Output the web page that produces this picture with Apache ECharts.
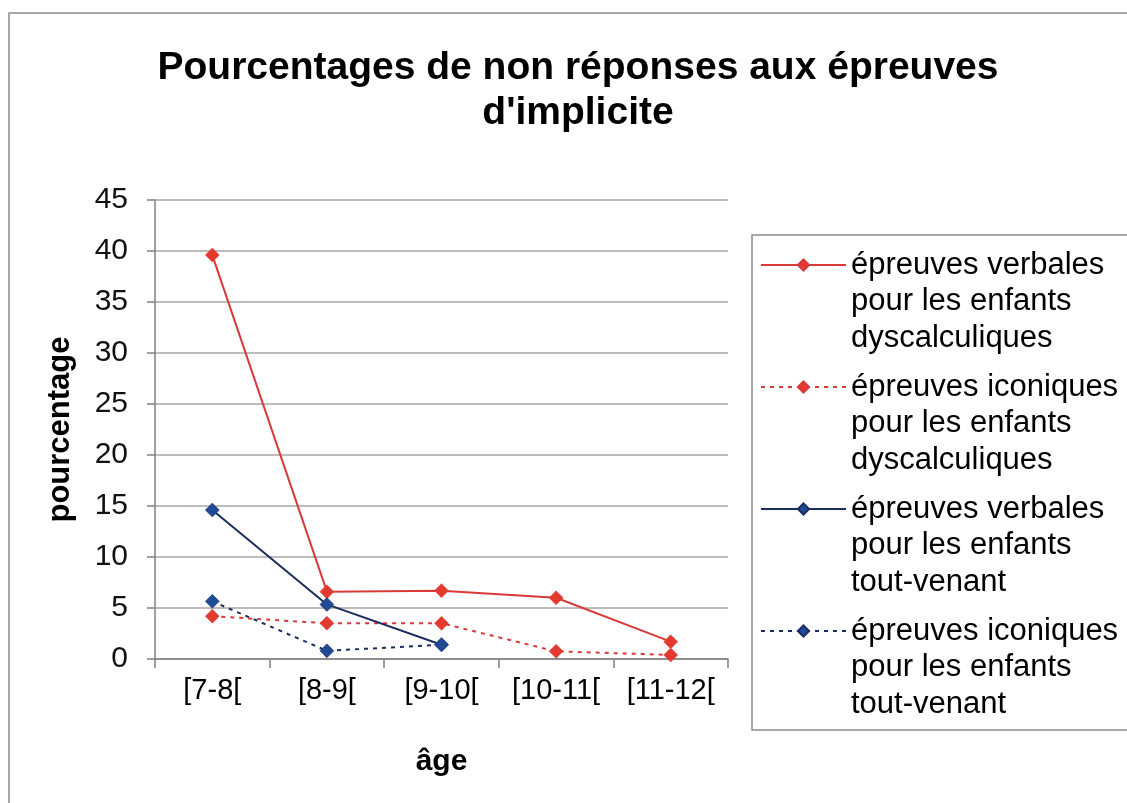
<!DOCTYPE html>
<html>
<head>
<meta charset="utf-8">
<script src="https://cdn.jsdelivr.net/npm/echarts@6/dist/echarts.min.js"></script>
<style>
  html, body { margin: 0; padding: 0; background: #fff; }
  #chart { width: 1127px; height: 803px; }
</style>
</head>
<body>
<div id="chart"></div>
<script>
// catégories d'âge
const ages = ['[7-8[', '[8-9[', '[9-10[', '[10-11[', '[11-12[']
const yTicks = [0, 5, 10, 15, 20, 25, 30, 35, 40, 45]

// pourcentages
const verbalDys = [39.6, 6.6, 6.7, 6.0, 1.7]
const iconDys = [4.2, 3.5, 3.5, 0.75, 0.4]
const verbalTv = [14.6, 5.35, 1.4, null, null]
const iconTv = [5.65, 0.8, 1.4, null, null]

const names = [
  'épreuves verbales\npour les enfants\ndyscalculiques',
  'épreuves iconiques\npour les enfants\ndyscalculiques',
  'épreuves verbales\npour les enfants\ntout-venant',
  'épreuves iconiques\npour les enfants\ntout-venant'
]

const colors = {
  red: '#e23a2e',
  redLine: '#d83a3a',
  blue: '#1f4a96',
  blueLine: '#1c2c5e',
  grid: '#a6a6a6',
  axis: '#808080'
}

const font = '"Liberation Sans", Arial, sans-serif'
const lineH = 36.5

const chart = echarts.init(document.getElementById('chart'))

function serie(name, data, color, lineColor, dashed) {
  return {
    name: name,
    type: 'line',
    data: data,
    symbol: 'diamond',
    symbolSize: 14,
    connectNulls: false,
    itemStyle: { color: color, borderColor: lineColor, borderWidth: 0.5 },
    lineStyle: { color: lineColor, width: 2, type: dashed ? [4, 5] : 'solid' },
    emphasis: { disabled: true },
    z: 3
  }
}

chart.setOption({
  animation: false,
  backgroundColor: '#fff',
  title: {
    text: 'Pourcentages de non réponses aux épreuves\nd\'implicite',
    left: 573,
    textAlign: 'center',
    top: 41,
    textStyle: { fontFamily: font, fontSize: 39, fontWeight: 'bold', color: '#000', lineHeight: 45 }
  },
  graphic: [
    {
      type: 'rect',
      shape: { x: 9, y: 13, width: 1130, height: 800 },
      style: { fill: 'none', stroke: '#8c8c8c', lineWidth: 1.5 },
      silent: true
    },
    {
      type: 'rect',
      shape: { x: 752, y: 235, width: 390, height: 495 },
      style: { fill: 'none', stroke: '#8c8c8c', lineWidth: 1.5 },
      silent: true
    }
  ],
  legend: {
    orient: 'vertical',
    left: 760,
    // deux lignes vides devant le nom : le symbole tombe sur la première ligne
    top: 265 - 2.5 * lineH,
    padding: 0,
    itemWidth: 85,
    itemHeight: 14,
    itemGap: 122 - 5 * lineH,
    selectedMode: false,
    data: names,
    formatter: name => '\n\n' + name,
    textStyle: {
      fontFamily: font,
      fontSize: 31,
      color: '#000',
      lineHeight: lineH
    }
  },
  grid: { left: 155, top: 200, right: 399, bottom: 144 },
  xAxis: {
    type: 'category',
    data: ages,
    boundaryGap: true,
    name: 'âge',
    nameLocation: 'middle',
    nameGap: 88,
    nameTextStyle: { fontFamily: font, fontSize: 30, fontWeight: 'bold', color: '#000' },
    axisLine: { lineStyle: { color: colors.axis, width: 1.5 } },
    axisTick: { show: true, length: 9, alignWithLabel: false, lineStyle: { color: colors.axis, width: 1.5 } },
    axisLabel: { fontFamily: font, fontSize: 29, color: '#000', margin: 17, interval: 0, hideOverlap: false },
    splitLine: { show: false }
  },
  yAxis: {
    type: 'value',
    min: 0,
    max: 45,
    interval: 5,
    name: 'pourcentage',
    nameLocation: 'middle',
    nameGap: 79,
    nameRotate: 90,
    nameTextStyle: { fontFamily: font, fontSize: 31, fontWeight: 'bold', color: '#000' },
    axisLine: { show: true, lineStyle: { color: colors.axis, width: 1.5 } },
    axisTick: { show: true, length: 8, lineStyle: { color: colors.axis, width: 1.5 } },
    axisLabel: {
      fontFamily: font, fontSize: 30, color: '#111', margin: 27,
      formatter: v => (yTicks.indexOf(v) >= 0 ? String(v) : '')
    },
    splitLine: { show: true, lineStyle: { color: colors.grid, width: 1.5 } }
  },
  series: [
    serie(names[0], verbalDys, colors.red, colors.redLine, false),
    serie(names[1], iconDys, colors.red, colors.redLine, true),
    serie(names[2], verbalTv, colors.blue, colors.blueLine, false),
    serie(names[3], iconTv, colors.blue, colors.blueLine, true)
  ]
})
</script>
</body>
</html>
